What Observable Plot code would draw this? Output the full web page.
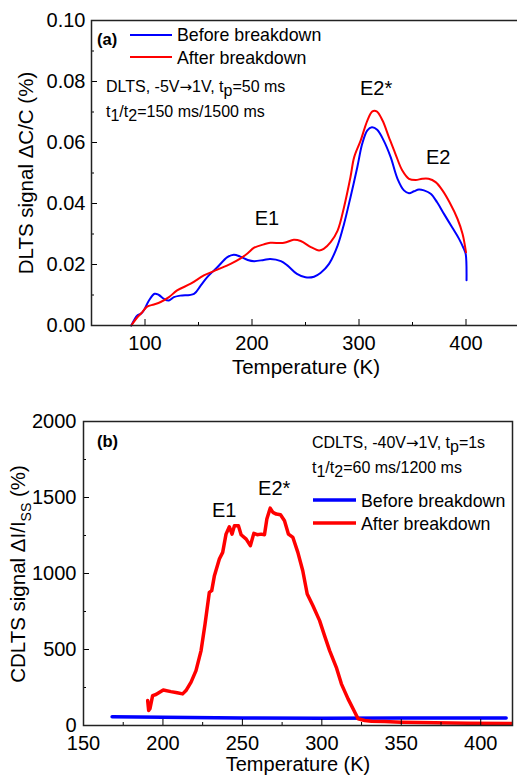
<!DOCTYPE html>
<html><head><meta charset="utf-8">
<script src="https://cdn.jsdelivr.net/npm/d3@7"></script>
<script src="https://cdn.jsdelivr.net/npm/@observablehq/plot@0.6"></script>
<style>
html,body{margin:0;padding:0;background:#fff;overflow:hidden;}
#a,#b{display:block;width:520px;}
</style></head><body>
<div id="a"></div><div id="b"></div>
<script>
// ---------- Panel (a): DLTS ----------
const tA_before = [87.2, 92.8, 96, 99, 103.7, 109, 113, 117.8, 122.4, 127, 133, 145.8, 152, 158, 167.6, 177, 183, 189, 196, 202, 211, 217, 227, 233, 242, 250, 258, 264, 272, 280, 286, 292, 298.4, 303, 307.8, 312, 317, 323, 329.6, 336, 342, 346.7, 351.4, 356, 360.7, 367, 373, 379.4, 387, 393.5, 398, 399.7, 400.5];
const dltsBefore = [0, 0.0033, 0.0038, 0.005, 0.0082, 0.0104, 0.0100, 0.0087, 0.0082, 0.0093, 0.0098, 0.0104, 0.0131, 0.0158, 0.0191, 0.0224, 0.0232, 0.0226, 0.0215, 0.0211, 0.0215, 0.0218, 0.0211, 0.0197, 0.0169, 0.0158, 0.016, 0.0172, 0.0202, 0.0262, 0.0333, 0.042, 0.0519, 0.0596, 0.064, 0.065, 0.0642, 0.0607, 0.0552, 0.0481, 0.0443, 0.0434, 0.044, 0.0446, 0.0443, 0.0432, 0.0404, 0.0366, 0.0322, 0.0284, 0.0251, 0.0235, 0.0148];
const tA_after = [87.2, 92.8, 97.5, 102, 108.4, 114.6, 122.4, 130, 142.7, 155, 167.6, 180, 189, 196, 202, 211, 217, 230, 239, 245.5, 255, 262.6, 267, 273.5, 280, 286, 292, 295.5, 301.6, 307.8, 312.5, 316.5, 322, 328, 334, 340.5, 346.7, 353, 359, 365, 371.6, 378, 384.6, 392, 396.8, 400];
const dltsAfter = [0, 0.0027, 0.0044, 0.0062, 0.0069, 0.0077, 0.0093, 0.0115, 0.0137, 0.0164, 0.0183, 0.0202, 0.0219, 0.0237, 0.0255, 0.0266, 0.0271, 0.0271, 0.0281, 0.0277, 0.0257, 0.0246, 0.0251, 0.0273, 0.0311, 0.0388, 0.0486, 0.0552, 0.0607, 0.0672, 0.0702, 0.0702, 0.0672, 0.0617, 0.0563, 0.0508, 0.0481, 0.0477, 0.0481, 0.0481, 0.047, 0.0443, 0.0404, 0.035, 0.03, 0.024];
const xTicksA = [100, 200, 300, 400];
const xMinorA = [150, 250, 350];
const yTicksA = [0, 0.02, 0.04, 0.06, 0.08, 0.10];
const yMinorA = [0.01, 0.03, 0.05, 0.07, 0.09];
const peakNamesA = ["E1", "E2*", "E2"];
const peakTA = [214, 316, 374];
const peakVA = [0.035, 0.0777, 0.0551];

// ---------- Panel (b): CDLTS ----------
const tB_before = [168, 200, 250, 300, 350, 400, 416];
const cdltsBefore = [57, 54, 50, 48, 49, 50, 50];
const tB_after = [190.4, 191, 191.8, 193.5, 195.6, 200.2, 205, 209, 212.4, 214.5, 217.7, 220.8, 224, 226.5, 229.2, 230.7, 232.4, 235.5, 237.6, 239.7, 241.8, 243.5, 245, 247.5, 249.2, 252.4, 255, 257.2, 259.3, 261.8, 263.9, 265.4, 267.5, 269.2, 271.3, 274, 276.5, 279, 281.8, 284.9, 288, 290.8, 294.4, 298.6, 301.7, 304.9, 309.1, 312.3, 316.5, 320.2, 322.8, 327, 331.2, 339.6, 350, 371, 392, 420];
const cdltsAfter = [164, 99, 110, 197, 204, 234, 223, 215, 208, 230, 285, 361, 493, 668, 876, 887, 986, 1095, 1139, 1259, 1307, 1259, 1314, 1314, 1255, 1226, 1183, 1264, 1255, 1259, 1255, 1358, 1430, 1402, 1391, 1386, 1347, 1259, 1237, 1139, 1018, 865, 788, 690, 591, 493, 383, 274, 175, 99, 44, 33, 28, 26, 22, 18, 15, 13];
const xTicksB = [150, 200, 250, 300, 350, 400];
const xMinorB = [175, 225, 275, 325, 375];
const yTicksB = [0, 500, 1000, 1500, 2000];
const yMinorB = [250, 750, 1250, 1750];
const peakNamesB = ["E1", "E2*"];
const peakTB = [238.5, 270];
const peakVB = [1413, 1558];

const BLUE = "#0000ff", RED = "#ff0000";
const FONT = "Arial, 'Liberation Sans', sans-serif";
const ARROWFONT = "'DejaVu Sans', sans-serif";
const rows = (xs, ys) => xs.map((t, i) => ({t, v: ys[i]}));
const baseStyle = {fontFamily: FONT, fontSize: "20px", color: "#000", background: "#fff", maxWidth: "none", overflow: "visible"};

function rich(svg, {x, y, size = 16, weight = null, anchor = "start", rotate = 0, parts}) {
  const t = d3.select(svg).append("text")
    .attr("transform", `translate(${x},${y})` + (rotate ? ` rotate(${rotate})` : ""))
    .attr("font-size", size).attr("text-anchor", anchor).attr("fill", "#000")
    .attr("font-family", FONT);
  if (weight) t.attr("font-weight", weight);
  let shift = 0;
  for (const p of parts) {
    const [s, kind, subSize, family] = p;
    const target = kind === "sub" ? Math.round(size * 0.28) : 0;
    const ts = t.append("tspan").text(s);
    if (subSize) ts.attr("font-size", subSize);
    if (family) ts.attr("font-family", family);
    if (target - shift) ts.attr("dy", target - shift);
    shift = target;
  }
  return t;
}
function legendLine(svg, x1, x2, y, color, w) {
  d3.select(svg).append("line").attr("x1", x1).attr("x2", x2).attr("y1", y).attr("y2", y)
    .attr("stroke", color).attr("stroke-width", w);
}

const A = Plot.plot({
  width: 520, height: 390,
  marginLeft: 91, marginRight: 1, marginTop: 20, marginBottom: 65,
  style: baseStyle,
  x: {domain: [50, 450], label: null},
  y: {domain: [0, 0.10], label: null},
  marks: [
    Plot.line(rows(tA_before, dltsBefore), {x: "t", y: "v", stroke: BLUE, strokeWidth: 2, curve: "catmull-rom"}),
    Plot.line(rows(tA_after, dltsAfter), {x: "t", y: "v", stroke: RED, strokeWidth: 2, curve: "catmull-rom"}),
    Plot.text(peakNamesA, {x: (d, i) => peakTA[i], y: (d, i) => peakVA[i], text: d => d, fontSize: 20, fill: "#000"}),
    Plot.axisY(yTicksA, {tickSize: 0, tickPadding: 6, tickFormat: d => d.toFixed(2), label: null}),
    Plot.axisY(yTicksA, {tickSize: -6, fill: "none", label: null}),
    Plot.axisY(yMinorA, {tickSize: -3, fill: "none", label: null}),
    Plot.axisX(xTicksA, {tickSize: 0, tickPadding: 10, tickFormat: d => String(d), label: null}),
    Plot.axisX(xTicksA, {tickSize: -6, fill: "none", label: null}),
    Plot.axisX(xMinorA, {tickSize: -3, fill: "none", label: null}),
    Plot.frame({stroke: "#222", strokeWidth: 1.5})
  ]
});
document.getElementById("a").append(A);

rich(A, {x: 97, y: 45, size: 16.5, weight: "bold", parts: [["(a)"]]});
legendLine(A, 130, 172, 35, BLUE, 2);
legendLine(A, 130, 172, 57, RED, 2);
rich(A, {x: 177, y: 40.5, size: 17.8, parts: [["Before breakdown"]]});
rich(A, {x: 177, y: 63.5, size: 17.8, parts: [["After breakdown"]]});
rich(A, {x: 106, y: 92, size: 16, parts: [["DLTS, -5V"], ["\u2192", null, 15, ARROWFONT], ["1V, t"], ["p", "sub"], ["=50 ms"]]});
rich(A, {x: 106, y: 117, size: 16, parts: [["t"], ["1", "sub"], ["/t"], ["2", "sub"], ["=150 ms/1500 ms"]]});
rich(A, {x: 306, y: 374, size: 20.5, anchor: "middle", parts: [["Temperature (K)"]]});
rich(A, {x: 33, y: 173, size: 20.5, anchor: "middle", rotate: -90, parts: [["DLTS signal \u0394C/C (%)"]]});

const B = Plot.plot({
  width: 517, height: 385,
  marginLeft: 83, marginRight: 5, marginTop: 31, marginBottom: 50,
  style: baseStyle,
  x: {domain: [150, 420], label: null},
  y: {domain: [0, 2000], label: null},
  marks: [
    Plot.line(rows(tB_before, cdltsBefore), {x: "t", y: "v", stroke: BLUE, strokeWidth: 3.5}),
    Plot.line(rows(tB_after, cdltsAfter), {x: "t", y: "v", stroke: RED, strokeWidth: 3.5, clip: true}),
    Plot.text(peakNamesB, {x: (d, i) => peakTB[i], y: (d, i) => peakVB[i], text: d => d, fontSize: 20, fill: "#000"}),
    Plot.axisY(yTicksB, {tickSize: 0, tickPadding: 7, tickFormat: d => String(d), label: null}),
    Plot.axisY(yTicksB, {tickSize: -6, fill: "none", label: null}),
    Plot.axisY(yMinorB, {tickSize: -3, fill: "none", label: null}),
    Plot.axisX(xTicksB, {tickSize: 0, tickPadding: 10, tickFormat: d => String(d), label: null}),
    Plot.axisX(xTicksB, {tickSize: -6, fill: "none", label: null}),
    Plot.axisX(xMinorB, {tickSize: -3, fill: "none", label: null}),
    Plot.frame({stroke: "#222", strokeWidth: 1.5})
  ]
});
document.getElementById("b").append(B);

rich(B, {x: 97, y: 57, size: 16.5, weight: "bold", parts: [["(b)"]]});
rich(B, {x: 312, y: 58, size: 16, parts: [["CDLTS, -40V"], ["\u2192", null, 15, ARROWFONT], ["1V, t"], ["p", "sub"], ["=1s"]]});
rich(B, {x: 312, y: 83, size: 16, parts: [["t"], ["1", "sub"], ["/t"], ["2", "sub"], ["=60 ms/1200 ms"]]});
legendLine(B, 313, 356, 110, BLUE, 3.5);
legendLine(B, 313, 356, 133, RED, 3.5);
rich(B, {x: 361, y: 116.5, size: 17.8, parts: [["Before breakdown"]]});
rich(B, {x: 361, y: 140, size: 17.8, parts: [["After breakdown"]]});
rich(B, {x: 298, y: 381, size: 20, anchor: "middle", parts: [["Temperature (K)"]]});
rich(B, {x: 25, y: 184, size: 20.5, anchor: "middle", rotate: -90, parts: [["CDLTS signal \u0394I/I"], ["SS", "sub", 14], [" (%)"]]});
</script>
</body></html>
